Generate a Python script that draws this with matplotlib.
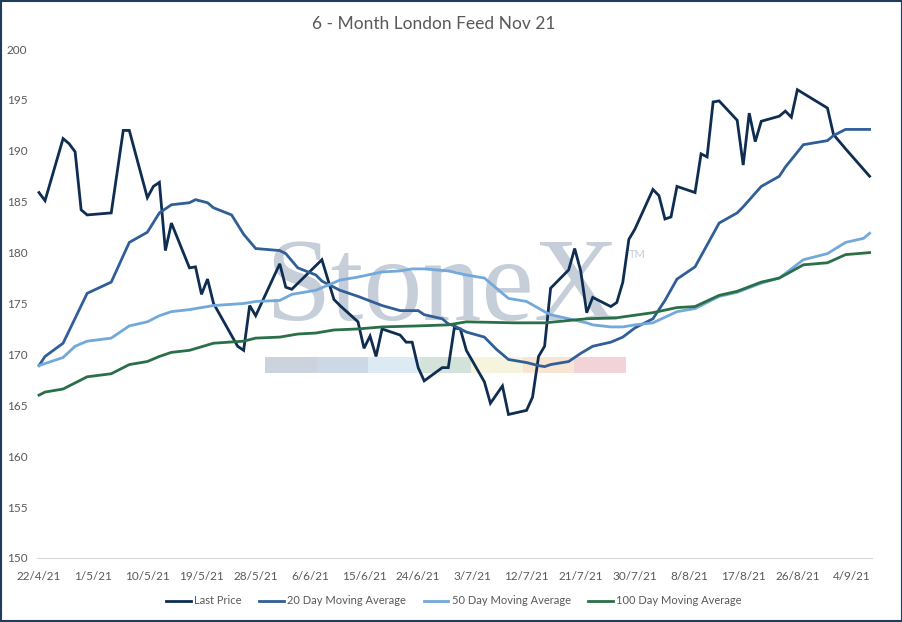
import pandas as pd
import numpy as np
import matplotlib
matplotlib.use('Agg')
import matplotlib.pyplot as plt
from matplotlib.patches import Rectangle

# Data (dates d/m/yy, values)
price_dates = ['22/4/21', '23/4/21', '26/4/21', '27/4/21', '28/4/21', '29/4/21', '30/4/21',
               '4/5/21', '6/5/21', '7/5/21', '10/5/21', '11/5/21', '12/5/21', '13/5/21', '14/5/21',
               '17/5/21', '18/5/21', '19/5/21', '20/5/21', '21/5/21', '25/5/21', '26/5/21',
               '27/5/21', '28/5/21', '1/6/21', '2/6/21', '3/6/21', '8/6/21', '10/6/21', '11/6/21',
               '14/6/21', '15/6/21', '16/6/21', '17/6/21', '18/6/21', '21/6/21', '22/6/21',
               '23/6/21', '24/6/21', '25/6/21', '28/6/21', '29/6/21', '30/6/21', '1/7/21',
               '2/7/21', '5/7/21', '6/7/21', '8/7/21', '9/7/21', '12/7/21', '13/7/21', '14/7/21',
               '15/7/21', '16/7/21', '19/7/21', '20/7/21', '21/7/21', '22/7/21', '23/7/21',
               '26/7/21', '27/7/21', '28/7/21', '29/7/21', '30/7/21', '2/8/21', '3/8/21',
               '4/8/21', '5/8/21', '6/8/21', '9/8/21', '10/8/21', '11/8/21', '12/8/21',
               '13/8/21', '16/8/21', '17/8/21', '18/8/21', '19/8/21', '20/8/21', '23/8/21',
               '24/8/21', '25/8/21', '26/8/21', '31/8/21', '1/9/21', '3/9/21', '7/9/21']
last_price = [185.9, 185.1, 191.2, 190.7, 189.9, 184.2, 183.7,
              183.9, 192.0, 192.0, 185.4, 186.5, 186.9, 180.2, 182.9,
              178.5, 178.6, 175.9, 177.4, 175.0, 170.8, 170.4,
              174.8, 173.8, 178.9, 176.6, 176.4, 179.3, 175.4, 174.8,
              173.2, 170.6, 171.8, 169.8, 172.5, 171.9, 171.2,
              171.2, 168.7, 167.4, 168.7, 168.7, 172.6, 172.5,
              170.4, 167.3, 165.2, 166.9, 164.1, 164.5, 165.8, 169.8,
              170.8, 176.5, 178.3, 180.4, 178.2, 174.1, 175.6,
              174.7, 175.1, 177.1, 181.3, 182.3, 186.2, 185.6,
              183.3, 183.5, 186.5, 185.9, 189.7, 189.4, 194.8,
              194.9, 193.0, 188.6, 193.7, 190.9, 192.9, 193.4,
              193.9, 193.3, 196.0, 194.2, 191.6, 190.2, 187.5]

ma20_dates = ['22/4/21', '23/4/21', '26/4/21', '30/4/21', '4/5/21', '7/5/21', '10/5/21', '12/5/21',
              '14/5/21', '17/5/21', '18/5/21', '20/5/21', '21/5/21', '24/5/21', '26/5/21',
              '28/5/21', '1/6/21', '2/6/21', '4/6/21', '7/6/21', '8/6/21', '11/6/21', '14/6/21',
              '18/6/21', '21/6/21', '24/6/21', '25/6/21', '28/6/21', '29/6/21', '30/6/21',
              '2/7/21', '5/7/21', '7/7/21', '9/7/21', '12/7/21', '14/7/21', '15/7/21', '16/7/21',
              '19/7/21', '21/7/21', '23/7/21', '26/7/21', '28/7/21', '30/7/21', '2/8/21',
              '4/8/21', '6/8/21', '9/8/21', '13/8/21', '16/8/21', '17/8/21', '20/8/21',
              '23/8/21', '24/8/21', '27/8/21', '31/8/21', '1/9/21', '3/9/21', '7/9/21']
ma20 = [168.9, 169.8, 171.1, 176.0, 177.1, 181.0, 182.0, 183.9,
        184.7, 184.9, 185.2, 184.9, 184.4, 183.7, 181.8,
        180.4, 180.2, 179.9, 178.5, 177.8, 177.2, 176.3, 175.7,
        174.8, 174.3, 174.3, 173.9, 173.5, 173.0, 172.8,
        172.2, 171.7, 170.5, 169.5, 169.2, 168.9, 168.8, 169.0,
        169.3, 170.1, 170.8, 171.2, 171.7, 172.6, 173.5,
        175.3, 177.4, 178.6, 182.9, 183.9, 184.5, 186.5,
        187.5, 188.4, 190.6, 191.0, 191.5, 192.1, 192.1]

ma50_dates = ['22/4/21', '23/4/21', '26/4/21', '28/4/21', '30/4/21', '4/5/21', '7/5/21', '10/5/21',
              '12/5/21', '14/5/21', '17/5/21', '21/5/21', '26/5/21', '28/5/21', '1/6/21',
              '3/6/21', '7/6/21', '11/6/21', '14/6/21', '18/6/21', '21/6/21', '23/6/21',
              '25/6/21', '29/6/21', '2/7/21', '5/7/21', '9/7/21', '12/7/21', '15/7/21',
              '16/7/21', '19/7/21', '22/7/21', '23/7/21', '26/7/21', '28/7/21', '30/7/21',
              '2/8/21', '6/8/21', '9/8/21', '13/8/21', '16/8/21', '20/8/21', '23/8/21',
              '27/8/21', '31/8/21', '3/9/21', '6/9/21', '7/9/21']
ma50 = [168.9, 169.1, 169.7, 170.8, 171.3, 171.6, 172.8, 173.2,
        173.8, 174.2, 174.4, 174.8, 175.0, 175.2, 175.3,
        175.9, 176.3, 177.3, 177.6, 178.1, 178.2, 178.4,
        178.4, 178.2, 177.8, 177.5, 175.5, 175.2, 174.2,
        173.9, 173.5, 173.1, 172.9, 172.7, 172.7, 172.9,
        173.1, 174.2, 174.5, 175.7, 176.1, 177.0, 177.5,
        179.3, 179.9, 181.0, 181.4, 181.9]

ma100_dates = ['22/4/21', '23/4/21', '26/4/21', '30/4/21', '4/5/21', '7/5/21', '10/5/21', '12/5/21',
               '14/5/21', '17/5/21', '21/5/21', '26/5/21', '28/5/21', '1/6/21', '4/6/21',
               '7/6/21', '10/6/21', '14/6/21', '18/6/21', '24/6/21', '29/6/21', '2/7/21',
               '10/7/21', '15/7/21', '22/7/21', '27/7/21', '2/8/21', '6/8/21', '9/8/21',
               '13/8/21', '16/8/21', '20/8/21', '23/8/21', '27/8/21', '31/8/21', '3/9/21', '7/9/21']
ma100 = [166.0, 166.3, 166.6, 167.8, 168.1, 169.0, 169.3, 169.8,
         170.2, 170.4, 171.1, 171.3, 171.6, 171.7, 172.0,
         172.1, 172.4, 172.5, 172.7, 172.8, 172.9, 173.2,
         173.1, 173.1, 173.5, 173.6, 174.1, 174.6, 174.7,
         175.8, 176.2, 177.1, 177.5, 178.8, 179.0, 179.8, 180.0]

series = [
    ('Last Price', price_dates, last_price, '#0e2d50'),
    ('20 Day Moving Average', ma20_dates, ma20, '#305e97'),
    ('50 Day Moving Average', ma50_dates, ma50, '#72a9da'),
    ('100 Day Moving Average', ma100_dates, ma100, '#2a6f48'),
]

plt.rcParams['font.family'] = ['Lato', 'DejaVu Sans']
grey = '#595959'

fig = plt.figure(figsize=(9.03, 6.22), dpi=100)
ax = fig.add_axes([37 / 903, 1 - 558 / 622, 835 / 903, 509 / 622])

# StoneX watermark behind the lines
ax.text(0.273, 0.468, 'StoneX', transform=ax.transAxes, fontsize=85,
        family='Liberation Serif', color='#c6ced9', ha='left', va='baseline', zorder=0)
ax.text(0.709, 0.597, 'TM', transform=ax.transAxes, fontsize=8,
        color='#c6ced9', ha='left', va='center', zorder=0)
bar_cols = ['#cdd3dc', '#ccd8e5', '#dceaf4', '#d3e3da', '#f6f4dc', '#f8e5d2', '#f2d4d8']
x0, w = (265 - 37) / 835, (626 - 265) / 835 / 7
for i, c in enumerate(bar_cols):
    ax.add_patch(Rectangle((x0 + i * w, 0.3635), w, 0.0315, transform=ax.transAxes,
                           facecolor=c, edgecolor='none', zorder=0))

for name, d, v, col in series:
    ax.plot(pd.to_datetime(d, format='%d/%m/%y'), v, color=col, lw=2.0, label=name,
            solid_joinstyle='miter', zorder=2)

start = pd.Timestamp('2021-04-22')
ticks = pd.date_range(start, periods=16, freq='9D')
ax.set_xticks(ticks)
ax.set_xticklabels([f'{t.day}/{t.month}/{t:%y}' for t in ticks])
ax.set_xlim(start - pd.Timedelta(hours=8), start + pd.Timedelta(days=138.4))
ax.set_ylim(150, 200)
ax.set_yticks(range(150, 201, 5))

for s in ['top', 'right', 'left']:
    ax.spines[s].set_visible(False)
ax.spines['bottom'].set_color('#d9d9d9')
ax.tick_params(length=0, labelsize=8.5, labelcolor=grey)
ax.tick_params(axis='y', pad=7)
ax.tick_params(axis='x', pad=9)

fig.text(434 / 903, 1 - 24 / 622, '6 - Month London Feed Nov 21', ha='center', va='center',
         fontsize=12.5, color=grey)

fig.legend(loc='center', bbox_to_anchor=(454 / 903, 1 - 601 / 622), ncol=4, frameon=False,
           fontsize=8, labelcolor=grey, handlelength=2.2, handletextpad=0.3, columnspacing=1.6)

fig.patches.append(Rectangle((0.001, 0.001), 0.998, 0.998, transform=fig.transFigure,
                             fill=False, edgecolor='#1f3b5e', lw=1.5))

fig.savefig('out.png', dpi=100)
